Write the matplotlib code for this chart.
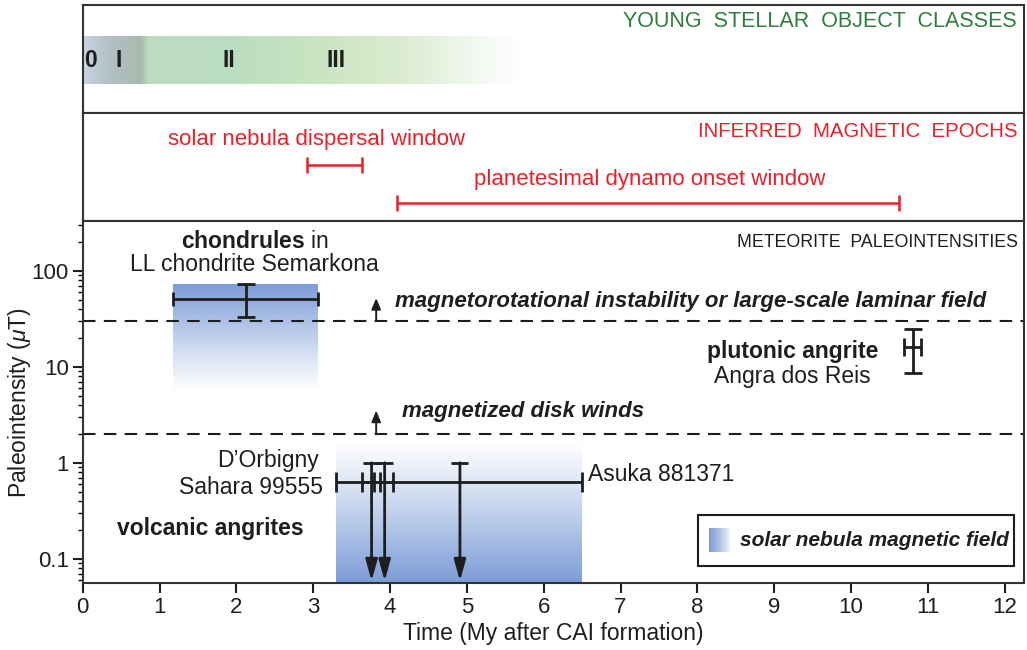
import matplotlib
matplotlib.use('Agg')
import matplotlib.pyplot as plt
import numpy as np
from matplotlib.patches import Rectangle
from matplotlib.ticker import FixedLocator, FixedFormatter, LogLocator, NullFormatter

plt.rcParams['font.family'] = ['Liberation Sans', 'DejaVu Sans']
plt.rcParams['mathtext.fontset'] = 'custom'
plt.rcParams['mathtext.it'] = 'Liberation Sans:italic'
plt.rcParams['mathtext.rm'] = 'Liberation Sans'
plt.rcParams['mathtext.bf'] = 'Liberation Sans:bold'

# ---- data (time in My after CAI, field in uT) ----
yso_labels = ['0', 'I', 'II', 'III']
yso_times = [0.1, 0.47, 1.9, 3.3]

dispersal_window = (2.92, 3.64)
dynamo_window = (4.09, 10.62)

mri_threshold = 30.0
wind_threshold = 2.0

chondrule_t = 2.12
chondrule_t_range = (1.17, 3.06)
chondrule_B = 51.0
chondrule_B_range = (32.7, 72.6)

angra_t = 10.8
angra_t_err = 0.11
angra_B = 16.2
angra_B_range = (8.55, 24.8)

volcanic_B = 0.635
asuka_range = (3.3, 6.5)
dorbigny_range = (3.64, 3.87)
sahara_range = (3.79, 4.04)
upper_limit_t = [3.76, 3.93, 4.91]
upper_limit_B = 1.0

# solar nebula field boxes: (t0, t1, B_low, B_high)
nebula_chondrule_box = (1.17, 3.06, 5.5, 72.6)
nebula_volcanic_box = (3.3, 6.5, 0.056, 1.69)

XMAX = 12.25
YMIN, YMAX = 0.056, 330
dark = '#1e1e1e'
red = '#e8202a'
green = '#2e7d3e'
blue = np.array([0.48, 0.61, 0.84])

fig = plt.figure(figsize=(10.27, 6.5), dpi=100)
L, W = 0.0805, 0.9165
ax1 = fig.add_axes([L, 0.8262, W, 0.1662])
ax2 = fig.add_axes([L, 0.66, W, 0.1662])
ax = fig.add_axes([L, 0.1031, W, 0.5569])

for a in (ax1, ax2, ax):
    for s in a.spines.values():
        s.set_linewidth(1.5)
        s.set_color('#333333')

# ---- panel 1: young stellar object classes ----
xs = np.linspace(0, 6.0, 600)
stops_x = [0.0, 0.35, 0.75, 0.85, 2.0, 3.2, 4.2, 5.0, 5.7, 6.0]
stops_c = [(0.78, 0.83, 0.89), (0.70, 0.75, 0.77), (0.66, 0.73, 0.69),
           (0.74, 0.86, 0.75), (0.73, 0.87, 0.75), (0.80, 0.90, 0.76),
           (0.86, 0.93, 0.82), (0.94, 0.97, 0.93), (1, 1, 1), (1, 1, 1)]
rgb = np.stack([np.interp(xs, stops_x, [c[i] for c in stops_c]) for i in range(3)], axis=-1)
ax1.imshow(rgb[np.newaxis, :, :], extent=(0, 6.0, 0.268, 0.704), aspect='auto',
           interpolation='bilinear', zorder=1)
ax1.set_xlim(0, XMAX)
ax1.set_ylim(0, 1)
ax1.set_xticks([])
ax1.set_yticks([])
for lab, t in zip(yso_labels, yso_times):
    ax1.text(t, 0.49, lab, fontsize=16.5, fontweight='bold', color=dark,
             ha='center', va='center', zorder=3)
ax1.text(12.16, 0.843, 'YOUNG  STELLAR  OBJECT  CLASSES', color=green,
         fontsize=15.5, ha='right', va='center')

# ---- panel 2: inferred magnetic epochs ----
ax2.set_xlim(0, XMAX)
ax2.set_ylim(0, 1)
ax2.set_xticks([])
ax2.set_yticks([])
ax2.text(12.16, 0.833, 'INFERRED  MAGNETIC  EPOCHS', color=red,
         fontsize=14.7, ha='right', va='center')
for (t0, t1), label, yb, yt, xt in [
        (dispersal_window, 'solar nebula dispersal window', 0.52, 0.75, 3.04),
        (dynamo_window, 'planetesimal dynamo onset window', 0.167, 0.38, 7.38)]:
    mid = (t0 + t1) / 2
    ax2.errorbar([mid], [yb], xerr=[[mid - t0], [t1 - mid]], fmt='none',
                 ecolor=red, elinewidth=1.8, capsize=6, capthick=1.8)
    ax2.text(xt, yt, label, color=red, fontsize=16, ha='center', va='center')

# ---- main panel: meteorite paleointensities ----
ax.set_yscale('log')
ax.set_xlim(0, XMAX)
ax.set_ylim(YMIN, YMAX)


def vgradient(t0, t1, b0, b1, dark_top):
    n = 120
    edges = np.logspace(np.log10(b0), np.log10(b1), n + 1)
    for i in range(n):
        f = (i + 0.5) / n  # 0 bottom, 1 top
        w = f if dark_top else 1 - f
        w = w ** 1.1
        c = 1 - w * (1 - blue)
        ax.fill_between([t0, t1], edges[i], edges[i + 1], color=c, lw=0, zorder=1)


vgradient(*nebula_chondrule_box, dark_top=True)
vgradient(*nebula_volcanic_box, dark_top=False)

# threshold lines
for thr in (mri_threshold, wind_threshold):
    ax.axhline(thr, color=dark, lw=1.5, dashes=(6, 4), zorder=2)
small_arrow = dict(arrowstyle='-|>,head_length=0.6,head_width=0.25', color=dark, lw=1.4,
                   mutation_scale=11, shrinkA=0, shrinkB=0)
ax.annotate('', xy=(3.82, 52), xytext=(3.82, mri_threshold), arrowprops=small_arrow, zorder=3)
ax.annotate('', xy=(3.82, 3.5), xytext=(3.82, wind_threshold), arrowprops=small_arrow, zorder=3)
ax.text(4.06, 47.6, 'magnetorotational instability or large-scale laminar field',
        fontsize=16, fontweight='bold', fontstyle='italic', color=dark, va='center')
ax.text(4.15, 3.45, 'magnetized disk winds', fontsize=16, fontweight='bold',
        fontstyle='italic', color=dark, va='center')

ekw = dict(fmt='none', ecolor=dark, elinewidth=2.0, capthick=2.0, zorder=4)

# chondrules
ax.errorbar([chondrule_t], [chondrule_B],
            xerr=[[chondrule_t - chondrule_t_range[0]], [chondrule_t_range[1] - chondrule_t]],
            capsize=5, **ekw)
ax.errorbar([chondrule_t], [chondrule_B],
            yerr=[[chondrule_B - chondrule_B_range[0]], [chondrule_B_range[1] - chondrule_B]],
            capsize=6.6, **ekw)
ax.text(2.24, 204, r'$\mathbf{chondrules}$ in', fontsize=16.5, ha='center', va='center', color=dark)
ax.text(2.24, 115, 'LL chondrite Semarkona', fontsize=16.5, ha='center', va='center', color=dark)

# Angra dos Reis
ax.errorbar([angra_t], [angra_B], xerr=angra_t_err, capsize=6.6, **ekw)
ax.errorbar([angra_t], [angra_B],
            yerr=[[angra_B - angra_B_range[0]], [angra_B_range[1] - angra_B]],
            capsize=6.6, **ekw)
ax.text(9.24, 14.3, 'plutonic angrite', fontsize=16.5, fontweight='bold',
        ha='center', va='center', color=dark)
ax.text(9.24, 7.83, 'Angra dos Reis', fontsize=16.5, ha='center', va='center', color=dark)

# volcanic angrites
for r in (asuka_range, dorbigny_range, sahara_range):
    mid = (r[0] + r[1]) / 2
    ax.errorbar([mid], [volcanic_B], xerr=[[mid - r[0]], [r[1] - mid]], capsize=7, **ekw)
big_arrow = dict(arrowstyle='-|>,head_length=0.8,head_width=0.22', color=dark, lw=2.0,
                 mutation_scale=16, shrinkA=0, shrinkB=0)
for t in upper_limit_t:
    ax.hlines(upper_limit_B, t - 0.11, t + 0.11, color=dark, lw=2.0, zorder=4)
    ax.annotate('', xy=(t, 0.005), xycoords=('data', 'axes fraction'),
                xytext=(t, upper_limit_B), textcoords='data',
                arrowprops=big_arrow, zorder=4)
ax.text(3.08, 1.05, 'D\u2019Orbigny', fontsize=16.5, ha='right', va='center', color=dark)
ax.text(3.13, 0.547, 'Sahara 99555', fontsize=16.5, ha='right', va='center', color=dark)
ax.text(6.58, 0.75, 'Asuka 881371', fontsize=16.5, ha='left', va='center', color=dark)
ax.text(0.45, 0.209, 'volcanic angrites', fontsize=16.5, fontweight='bold',
        ha='left', va='center', color=dark)

ax.text(12.17, 195, 'METEORITE  PALEOINTENSITIES', fontsize=12.8,
        ha='right', va='center', color=dark)

# legend
ax.add_patch(Rectangle((0.654, 0.047), 0.335, 0.141, transform=ax.transAxes,
                       fill=False, ec=dark, lw=1.5, zorder=5))
gx = np.linspace(0, 1, 50)
grad = np.stack([1 - (1 - gx) ** 0.8 * (1 - blue[i]) for i in range(3)], axis=-1)
ax_leg = fig.add_axes([L + W * 0.665, 0.1031 + 0.5569 * 0.086, W * 0.023, 0.5569 * 0.066])
ax_leg.imshow(grad[np.newaxis, :, :], aspect='auto', interpolation='bilinear')
ax_leg.axis('off')
ax.text(0.698, 0.116, 'solar nebula magnetic field', transform=ax.transAxes,
        fontsize=15, fontweight='bold', fontstyle='italic', va='center', color=dark)

# axes styling
ax.set_xticks(range(0, 13))
ax.yaxis.set_major_locator(FixedLocator([0.1, 1, 10, 100]))
ax.yaxis.set_major_formatter(FixedFormatter(['0.1', '1', '10', '100']))
ax.yaxis.set_minor_locator(LogLocator(base=10, subs=np.arange(2, 10)))
ax.yaxis.set_minor_formatter(NullFormatter())
ax.tick_params(axis='both', which='major', direction='out', length=7, width=1.5,
               labelsize=16, colors=dark, pad=3)
ax.tick_params(axis='y', which='minor', direction='out', length=3.5, width=1.0)
ax.set_xlabel('Time (My after CAI formation)', fontsize=16.5, color=dark, labelpad=3)
ax.set_ylabel(r'Paleointensity ($\mu$T)', fontsize=16.5, color=dark)
ax.yaxis.set_label_coords(-0.053, 0.5)

fig.savefig('out.png', dpi=100)
